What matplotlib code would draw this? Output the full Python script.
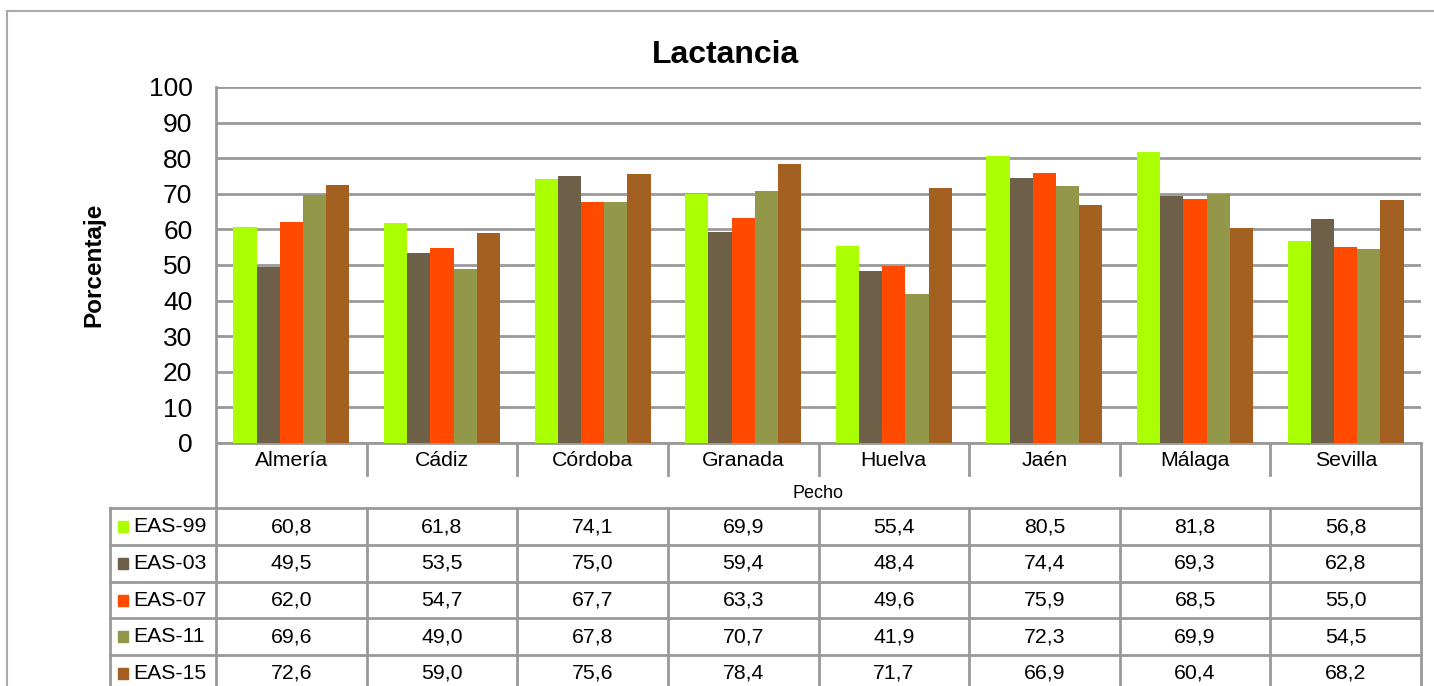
import matplotlib.pyplot as plt
import numpy as np

plt.rcParams['font.family'] = ['Liberation Sans', 'DejaVu Sans']

# data
provincias = ['Almería', 'Cádiz', 'Córdoba', 'Granada', 'Huelva', 'Jaén', 'Málaga', 'Sevilla']
series = ['EAS-99', 'EAS-03', 'EAS-07', 'EAS-11', 'EAS-15']
eas99 = [60.8, 61.8, 74.1, 69.9, 55.4, 80.5, 81.8, 56.8]
eas03 = [49.5, 53.5, 75.0, 59.4, 48.4, 74.4, 69.3, 62.8]
eas07 = [62.0, 54.7, 67.7, 63.3, 49.6, 75.9, 68.5, 55.0]
eas11 = [69.6, 49.0, 67.8, 70.7, 41.9, 72.3, 69.9, 54.5]
eas15 = [72.6, 59.0, 75.6, 78.4, 71.7, 66.9, 60.4, 68.2]
valores = [eas99, eas03, eas07, eas11, eas15]
colores = ['#aaff00', '#6e5f48', '#ff4a00', '#93974a', '#a36020']

W, H = 1434, 686
fig = plt.figure(figsize=(W / 100, H / 100), dpi=100)

# plot area in pixels
px_l, px_r, px_t, px_b = 216, 1421, 87, 443
ax = fig.add_axes([px_l / W, 1 - px_b / H, (px_r - px_l) / W, (px_b - px_t) / H])

n = len(provincias)
x = np.arange(n)
w = 0.154
for j, (vals, c) in enumerate(zip(valores, colores)):
    ax.bar(x + (j - 2) * w, vals, width=w, color=c, zorder=3)

ax.set_xlim(-0.5, n - 0.5)
ax.set_ylim(0, 100)
ax.set_yticks(range(0, 101, 10))
ax.set_xticks([])
ax.tick_params(axis='y', length=0, pad=17, labelsize=19)
ax.yaxis.grid(True, color='#999999', linewidth=2, zorder=0)
for s in ['top', 'right']:
    ax.spines[s].set_visible(False)
for s in ['left', 'bottom']:
    ax.spines[s].set_color('#999999')
    ax.spines[s].set_linewidth(2)
ax.set_ylabel('Porcentaje', fontsize=17.5, fontweight='bold', labelpad=31)

fig.text(725 / W, 1 - 55 / H, 'Lactancia', ha='center', va='center',
         fontsize=23, fontweight='bold')

# overlay in pixel coordinates for border and data table
ov = fig.add_axes([0, 0, 1, 1], zorder=-1)
ov.set_xlim(0, W)
ov.set_ylim(H, 0)
ov.axis('off')

gc = '#999999'
# outer chart border
ov.plot([7, 7], [11, H + 5], color='#aaaaaa', lw=1.5)
ov.plot([7, W + 5], [11, 11], color='#aaaaaa', lw=1.5)

colw = (px_r - px_l) / n
cx = [px_l + (i + 0.5) * colw for i in range(n)]
fs = 15.3

# category label row
lab_b = 475
for i in range(1, n):
    ov.plot([px_l + i * colw] * 2, [px_b, lab_b], color=gc, lw=2)
for i, p in enumerate(provincias):
    ov.text(cx[i], 461, p, ha='center', va='center', fontsize=fs)
ov.text((px_l + px_r) / 2, 493, 'Pecho', ha='center', va='center', fontsize=13)

# left and right vertical borders
ov.plot([px_l, px_l], [px_b, H + 5], color=gc, lw=2)
ov.plot([px_r, px_r], [px_b, H + 5], color=gc, lw=2)

# series rows
row_t = 508.3
row_h = 36.7
tab_l = 110
for r in range(len(series)):
    y0 = row_t + r * row_h
    ov.plot([tab_l, px_r], [y0, y0], color=gc, lw=2)
    yc = y0 + row_h / 2
    ov.add_patch(plt.Rectangle((118, yc - 5.5), 10, 11, color=colores[r]))
    ov.text(133, yc, series[r], ha='left', va='center', fontsize=fs)
    for i in range(n):
        ov.text(cx[i], yc, f'{valores[r][i]:.1f}'.replace('.', ','),
                ha='center', va='center', fontsize=fs)
ov.plot([tab_l, tab_l], [row_t, H + 5], color=gc, lw=2)
for i in range(1, n):
    ov.plot([px_l + i * colw] * 2, [row_t, H + 5], color=gc, lw=2)

fig.savefig('out.png', dpi=100)
